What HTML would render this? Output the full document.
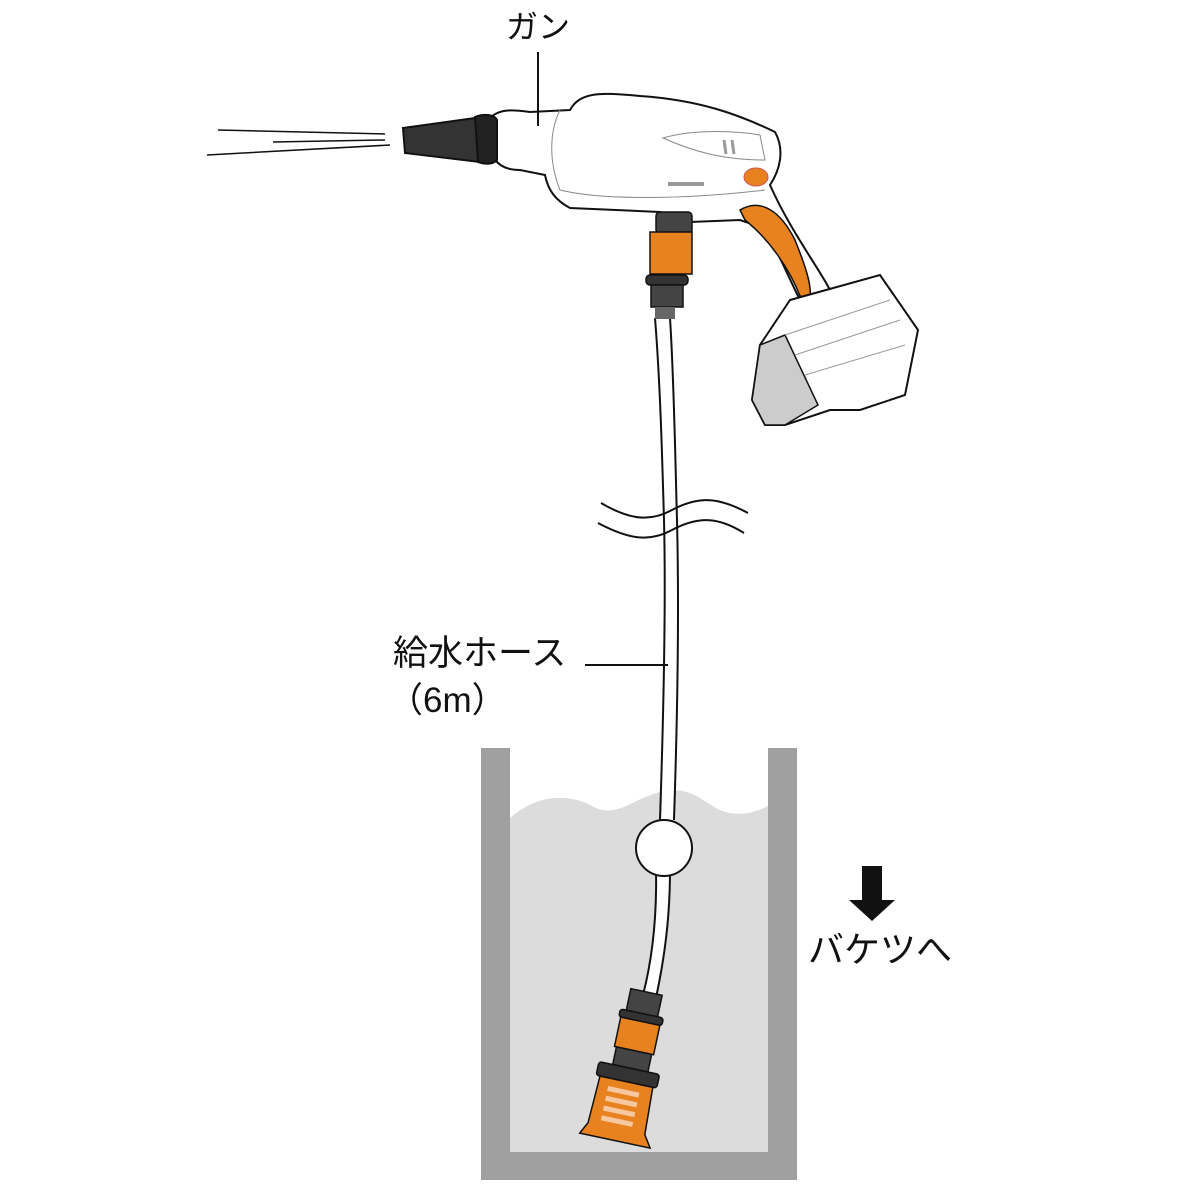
<!DOCTYPE html>
<html><head><meta charset="utf-8"><style>
html,body{margin:0;padding:0;background:#fff}
svg{display:block}
text{font-family:"Liberation Sans","Noto Sans CJK JP",sans-serif;fill:#111}
</style></head><body>
<svg width="1200" height="1200" viewBox="0 0 1200 1200" xmlns="http://www.w3.org/2000/svg">
<rect x="481" y="748" width="316" height="432" fill="#a0a0a0"/>
<rect x="510" y="748" width="258" height="404" fill="#fff"/>
<path d="M510 818 C530 800 560 790 590 805 C615 820 630 800 660 792 C690 785 700 800 720 810 C740 818 755 812 768 806 L768 1152 L510 1152 Z" fill="#dcdcdc"/>
<path d="M656 318 C661 380 663 450 665 520 C667 600 665 700 661 820 L673 820 C677 700 678 600 676 520 C674 450 673 380 669 318Z" fill="#fff"/>
<path d="M655 318 C660 380 662 450 664 520 C666 600 664 700 660 820 M670 318 C674 380 675 450 677 520 C679 600 678 700 674 820" fill="none" stroke="#111" stroke-width="2"/>
<path d="M601 503 C630 520 650 522 672 510 C700 495 720 498 748 513" fill="none" stroke="#111" stroke-width="2"/>
<path d="M598 523 C630 540 650 542 672 530 C700 515 720 518 744 533" fill="none" stroke="#111" stroke-width="2"/>
<path d="M656 870 C657 920 652 960 643 995 L656 998 C664 960 670 920 670 870Z" fill="#fff" stroke="#111" stroke-width="2"/>
<circle cx="664" cy="848" r="28" fill="#fff" stroke="#111" stroke-width="2"/>
<g transform="rotate(12 630 1060)" stroke="#111" stroke-width="1.5">
<rect x="616" y="990" width="32" height="22" fill="#444"/>
<rect x="610" y="1012" width="44" height="8" rx="3" fill="#333"/>
<rect x="612" y="1020" width="40" height="30" fill="#e8821f"/>
<rect x="614" y="1050" width="36" height="18" fill="#444"/>
<rect x="600" y="1068" width="62" height="14" rx="3" fill="#333"/>
<path d="M604 1082 L658 1082 L660 1130 L668 1142 L596 1142 L602 1130Z" fill="#e8821f"/>
<g fill="#f6c8a0" stroke="none"><rect x="614" y="1090" width="32" height="5"/><rect x="614" y="1100" width="32" height="5"/><rect x="614" y="1110" width="32" height="5"/><rect x="614" y="1120" width="32" height="5"/></g>
</g>
<path d="M490 118 C500 108 515 110 530 112 L570 110 C580 92 600 92 640 96 C700 100 740 115 775 132 C785 150 780 170 770 185 C790 230 820 270 830 290 L800 300 C780 260 770 230 755 225 L740 220 L690 222 L660 212 L570 208 C555 200 548 190 545 175 L520 170 C500 170 490 160 490 140Z" fill="#fff" stroke="#111" stroke-width="2"/>
<path d="M560 110 C550 130 548 160 560 190 C600 200 680 200 765 190" fill="none" stroke="#888" stroke-width="1"/>
<path d="M663 138 C690 130 730 130 760 135 L765 160 C720 160 690 150 663 138Z" fill="#fff" stroke="#888" stroke-width="1"/>
<path d="M724 140 L726 154 M732 140 L734 154" stroke="#999" stroke-width="3"/>
<rect x="668" y="182" width="36" height="4" fill="#999"/>
<ellipse cx="756" cy="177" rx="12" ry="9" fill="#e8821f" stroke="#c55" stroke-width="1"/>
<path d="M740 210 C760 198 780 210 795 240 C805 265 812 285 810 298 L800 296 C790 270 770 240 745 220Z" fill="#e8821f" stroke="#111" stroke-width="1.5"/>
<path d="M790 300 L880 275 L918 330 L905 395 L860 410 L830 410 L785 425 L765 425 L752 400 L760 345Z" fill="#fff" stroke="#111" stroke-width="2"/>
<path d="M760 345 L785 335 L818 405 L785 425 L765 425 L752 400Z" fill="#ccc" stroke="#111" stroke-width="1.5"/>
<path d="M785 335 L890 300 M795 355 L900 320 M805 375 L905 345" stroke="#999" stroke-width="1"/>
<path d="M403 128 L475 118 L480 162 L405 153Z" fill="#333" stroke="#111" stroke-width="2"/>
<path d="M475 117 C485 113 495 115 497 120 L497 160 C492 165 484 164 478 162Z" fill="#222" stroke="#111" stroke-width="2"/>
<rect x="656" y="212" width="36" height="22" rx="4" fill="#444" stroke="#111" stroke-width="1.5"/>
<rect x="650" y="232" width="42" height="42" fill="#e8821f" stroke="#111" stroke-width="1.5"/>
<rect x="646" y="275" width="42" height="10" rx="4" fill="#333" stroke="#111" stroke-width="1.5"/>
<rect x="651" y="285" width="32" height="22" fill="#444" stroke="#111" stroke-width="1.5"/>
<rect x="655" y="307" width="20" height="12" fill="#666"/>
<path d="M218 130 L385 134 M273 142 L385 140 M207 155 L390 145" stroke="#111" stroke-width="1.5"/>
<text x="506" y="38" font-size="32">ガン</text>
<line x1="538" y1="52" x2="538" y2="126" stroke="#111" stroke-width="2"/>
<text x="393" y="665" font-size="35">給水ホース</text>
<text x="388" y="712" font-size="35">（6m）</text>
<line x1="585" y1="665" x2="668" y2="665" stroke="#111" stroke-width="2"/>
<path d="M862 866 H882 V900 H895 L872 921 L849 900 H862Z" fill="#111"/>
<text x="808" y="962" font-size="36">バケツへ</text>
</svg>
</body></html>
